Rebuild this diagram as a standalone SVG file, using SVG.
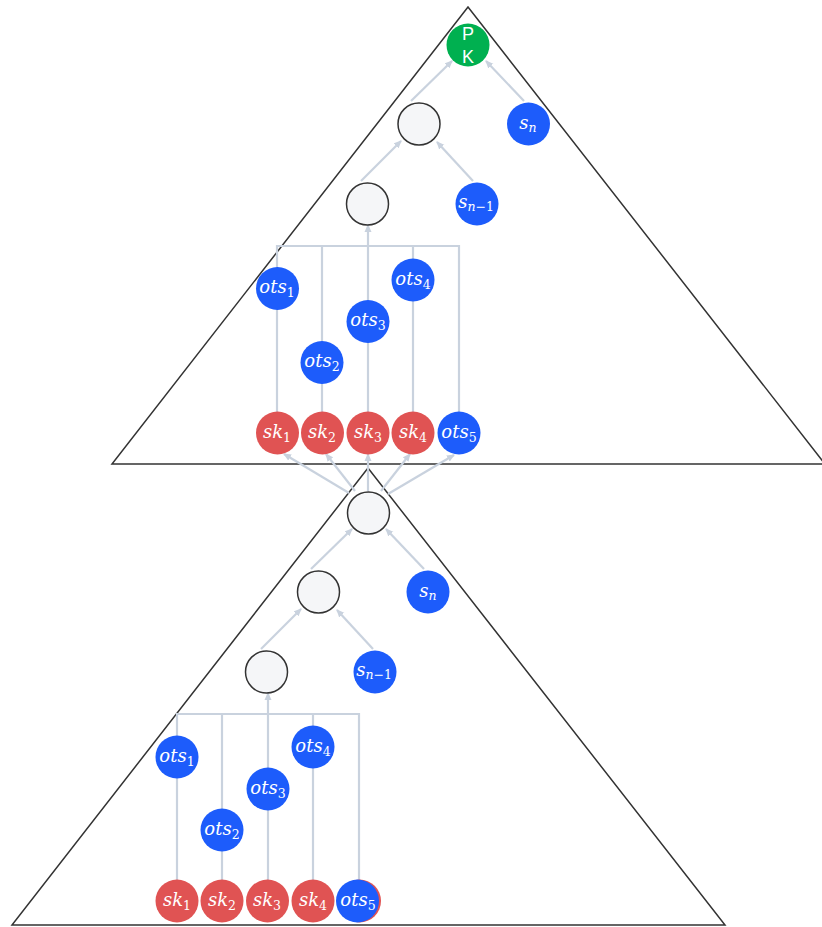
<svg xmlns="http://www.w3.org/2000/svg" width="822" height="927" viewBox="0 0 822 927">
<style>
.tri{fill:none;stroke:#333;stroke-width:1.5}
.c{stroke:#c9d2de;stroke-width:2.2;fill:none}
.a{marker-end:url(#ah)}
.blue{fill:#1d5cfb}
.red{fill:#e05353}
.green{fill:#00b050}
.empty{fill:#f5f6f8;stroke:#333;stroke-width:1.5}
.m{font-family:"DejaVu Serif",serif;font-style:italic;font-size:18px;fill:#fff;text-anchor:middle}
.sub{font-size:12.5px}
.d{font-style:normal}
.pk{font-family:"Liberation Sans",Arial,sans-serif;font-size:18px;fill:#fff;text-anchor:middle}
</style>
<defs>
<marker id="ah" markerWidth="8" markerHeight="8" refX="7" refY="4" orient="auto" markerUnits="userSpaceOnUse">
<path d="M0,0.5 L8,4 L0,7.5 Z" fill="#c9d2de"/>
</marker>
</defs>
<g id="triangles">
<polygon class="tri" points="468,7 112,464 825,464"/>
<polygon class="tri" points="368,468 12,925 725,925"/>
</g>
<g id="connectors">
<line class="c a" x1="411" y1="101" x2="452" y2="61"/>
<line class="c a" x1="524" y1="101" x2="486" y2="61"/>
<line class="c a" x1="361" y1="181" x2="401" y2="141"/>
<line class="c a" x1="473" y1="181" x2="437" y2="142"/>
<path class="c" d="M277,412 V246 H459 V412 M322,412 V246 M413,412 V246"/>
<line class="c a" x1="368" y1="412" x2="368" y2="225"/>
<line class="c a" x1="349" y1="493" x2="284" y2="454"/>
<line class="c a" x1="355" y1="491" x2="326" y2="454"/>
<line class="c a" x1="368" y1="491" x2="368" y2="454"/>
<line class="c a" x1="381" y1="491" x2="410" y2="454"/>
<line class="c a" x1="388" y1="494" x2="454" y2="455"/>
<line class="c a" x1="311" y1="569" x2="352" y2="529"/>
<line class="c a" x1="424" y1="569" x2="386" y2="529"/>
<line class="c a" x1="261" y1="649" x2="301" y2="609"/>
<line class="c a" x1="373" y1="649" x2="337" y2="610"/>
<path class="c" d="M177,880 V714 H359 V880 M222,880 V714 M313,880 V714"/>
<line class="c a" x1="268" y1="880" x2="268" y2="693"/>
</g>
<g id="pk"><circle class="green" cx="468" cy="45" r="21.5"/><text class="pk" x="468" y="40">P</text><text class="pk" x="468" y="63">K</text></g>
<g id="t_h1"><circle class="empty" cx="419" cy="124" r="21"/></g>
<g id="t_sn"><circle class="blue" cx="528.5" cy="124" r="21.5"/><text class="m" x="528" y="129">s<tspan class="sub" dy="3">n</tspan></text></g>
<g id="t_h2"><circle class="empty" cx="367.5" cy="204" r="21"/></g>
<g id="t_sn1"><circle class="blue" cx="477" cy="204" r="21.5"/><text class="m" x="476" y="208">s<tspan class="sub" dy="3">n<tspan class="d">−1</tspan></tspan></text></g>
<g id="t_ots1"><circle class="blue" cx="277.5" cy="288.5" r="21.5"/><text class="m" x="277" y="293">ots<tspan class="sub d" dy="4">1</tspan></text></g>
<g id="t_ots4"><circle class="blue" cx="413" cy="280" r="21.5"/><text class="m" x="413" y="285">ots<tspan class="sub d" dy="4">4</tspan></text></g>
<g id="t_ots3"><circle class="blue" cx="368" cy="321.5" r="21.5"/><text class="m" x="368" y="326">ots<tspan class="sub d" dy="4">3</tspan></text></g>
<g id="t_ots2"><circle class="blue" cx="322" cy="362.5" r="21.5"/><text class="m" x="322" y="367">ots<tspan class="sub d" dy="4">2</tspan></text></g>
<g id="t_sk1"><circle class="red" cx="277.5" cy="433" r="21.5"/><text class="m" x="277" y="438">sk<tspan class="sub d" dy="4">1</tspan></text></g>
<g id="t_sk2"><circle class="red" cx="322.5" cy="433" r="21.5"/><text class="m" x="322" y="438">sk<tspan class="sub d" dy="4">2</tspan></text></g>
<g id="t_sk3"><circle class="red" cx="368" cy="433" r="21.5"/><text class="m" x="368" y="438">sk<tspan class="sub d" dy="4">3</tspan></text></g>
<g id="t_sk4"><circle class="red" cx="413" cy="433" r="21.5"/><text class="m" x="413" y="438">sk<tspan class="sub d" dy="4">4</tspan></text></g>
<g id="t_ots5"><circle class="blue" cx="459" cy="433" r="21.5"/><text class="m" x="459" y="438">ots<tspan class="sub d" dy="4">5</tspan></text></g>
<g id="b_root"><circle class="empty" cx="368.5" cy="513" r="21"/></g>
<g id="b_h1"><circle class="empty" cx="318.5" cy="592" r="21"/></g>
<g id="b_sn"><circle class="blue" cx="428" cy="592" r="21.5"/><text class="m" x="428" y="597">s<tspan class="sub" dy="3">n</tspan></text></g>
<g id="b_h2"><circle class="empty" cx="266.5" cy="672" r="21"/></g>
<g id="b_sn1"><circle class="blue" cx="375" cy="672" r="21.5"/><text class="m" x="374" y="676">s<tspan class="sub" dy="3">n<tspan class="d">−1</tspan></tspan></text></g>
<g id="b_ots1"><circle class="blue" cx="177" cy="757" r="21.5"/><text class="m" x="177" y="762">ots<tspan class="sub d" dy="4">1</tspan></text></g>
<g id="b_ots4"><circle class="blue" cx="313" cy="747" r="21.5"/><text class="m" x="313" y="752">ots<tspan class="sub d" dy="4">4</tspan></text></g>
<g id="b_ots3"><circle class="blue" cx="268" cy="789" r="21.5"/><text class="m" x="268" y="794">ots<tspan class="sub d" dy="4">3</tspan></text></g>
<g id="b_ots2"><circle class="blue" cx="222" cy="830" r="21.5"/><text class="m" x="222" y="835">ots<tspan class="sub d" dy="4">2</tspan></text></g>
<g id="b_sk1"><circle class="red" cx="177" cy="901" r="21.5"/><text class="m" x="177" y="906">sk<tspan class="sub d" dy="4">1</tspan></text></g>
<g id="b_sk2"><circle class="red" cx="222" cy="901" r="21.5"/><text class="m" x="222" y="906">sk<tspan class="sub d" dy="4">2</tspan></text></g>
<g id="b_sk3"><circle class="red" cx="267.5" cy="901" r="21.5"/><text class="m" x="267" y="906">sk<tspan class="sub d" dy="4">3</tspan></text></g>
<g id="b_sk4"><circle class="red" cx="313" cy="901" r="21.5"/><text class="m" x="313" y="906">sk<tspan class="sub d" dy="4">4</tspan></text></g>
<g id="b_ots5"><circle class="red" cx="359.5" cy="901" r="21.5"/><circle class="blue" cx="357.5" cy="901" r="21.5"/><text class="m" x="358" y="906">ots<tspan class="sub d" dy="4">5</tspan></text></g>
</svg>
